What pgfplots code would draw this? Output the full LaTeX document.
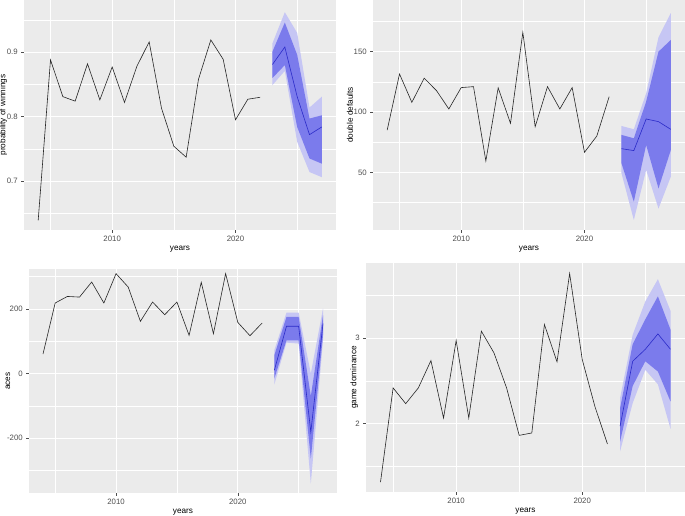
\documentclass[border=0pt]{standalone}
\usepackage{pgfplots}
\pgfplotsset{compat=1.18}
\usepackage{fontspec}
\setmainfont{Liberation Sans}
\definecolor{ggbg}{HTML}{EBEBEB}
\definecolor{ggtick}{HTML}{4D4D4D}
\definecolor{lo}{HTML}{C6C6F4}
\definecolor{hi}{HTML}{7B7BEC}
\definecolor{fc}{HTML}{2B2BC8}
\pgfplotsset{gg/.style={
  scale only axis, anchor=north west,
  axis background/.style={fill=ggbg},
  axis line style={draw=none},
  tick align=outside, tick pos=left,
  major tick length=2.75pt, minor tick length=0pt,
  tick style={ggtick, line width=0.5pt},
  grid=both,
  major grid style={white, line width=1pt},
  minor grid style={white, line width=0.5pt},
  xmin=2002.85, xmax=2028.15,
  xtick={2010,2020}, xticklabels={2010,2020},
  minor xtick={2005,2015,2025},
  ticklabel style={font=\fontsize{7.8}{9}\selectfont, text=ggtick},
  label style={font=\fontsize{8.2}{10}\selectfont},
  xlabel={years},
  /pgf/number format/assume math mode=true,
  xlabel style={yshift=3pt},
},
obs/.style={black!85, line width=0.6pt, no markers},
fcl/.style={fc, line width=0.6pt, no markers},
b95/.style={fill=lo, draw=none},
b80/.style={fill=hi, draw=none}}
\begin{document}
\begin{tikzpicture}
\path[use as bounding box] (0pt,0pt) rectangle (685pt,-516pt);
% Panel 1
\begin{axis}[gg, at={(24pt,0pt)}, width=312pt, height=230pt,
  ymin=0.624, ymax=0.981,
  ytick={0.7,0.8,0.9}, yticklabels={0.7,0.8,0.9},
  minor ytick={0.65,0.75,0.85,0.95},
  ylabel={probability of winnings}, ylabel style={yshift=-7pt}]
\addplot[b95] coordinates {(2023,0.914)(2024,0.962)(2025,0.930)(2026,0.814)(2027,0.831)(2027,0.706)(2026,0.714)(2025,0.761)(2024,0.871)(2023,0.849)} -- cycle;
\addplot[b80] coordinates {(2023,0.901)(2024,0.946)(2025,0.896)(2026,0.797)(2027,0.802)(2027,0.727)(2026,0.735)(2025,0.784)(2024,0.880)(2023,0.860)} -- cycle;
\addplot[fcl] coordinates {(2023,0.881)(2024,0.908)(2025,0.831)(2026,0.772)(2027,0.784)};
\addplot[obs] coordinates {(2004,0.639)(2005,0.888)(2006,0.831)(2007,0.824)(2008,0.882)(2009,0.826)(2010,0.877)(2011,0.822)(2012,0.878)(2013,0.916)(2014,0.813)(2015,0.754)(2016,0.737)(2017,0.858)(2018,0.919)(2019,0.889)(2020,0.795)(2021,0.827)(2022,0.830)};
\end{axis}
% Panel 2
\begin{axis}[gg, at={(373pt,0pt)}, width=312pt, height=230pt,
  ymin=2.2, ymax=192.8,
  ytick={50,100,150}, yticklabels={50,100,150},
  minor ytick={25,75,125,175},
  ylabel={double defaults}, ylabel style={yshift=-6pt}]
\addplot[b95] coordinates {(2023,88.4)(2024,85.7)(2025,115.5)(2026,161.9)(2027,182)(2027,46.4)(2026,20)(2025,52)(2024,10.5)(2023,49.2)} -- cycle;
\addplot[b80] coordinates {(2023,81)(2024,78.2)(2025,108.6)(2026,150)(2027,159.7)(2027,68.5)(2026,36.7)(2025,72.7)(2024,25.7)(2023,57.5)} -- cycle;
\addplot[fcl] coordinates {(2023,69.6)(2024,68)(2025,94.2)(2026,92)(2027,85.6)};
\addplot[obs] coordinates {(2004,85)(2005,131.5)(2006,108)(2007,128)(2008,117.7)(2009,102.5)(2010,120.2)(2011,121)(2012,59.4)(2013,120)(2014,90.6)(2015,166)(2016,87.8)(2017,121)(2018,102.5)(2019,120.2)(2020,66.6)(2021,80.1)(2022,112.7)};
\end{axis}
% Panel 3
\begin{axis}[gg, at={(29pt,-269pt)}, width=308pt, height=224pt,
  ymin=-370, ymax=324,
  ytick={-200,0,200}, yticklabels={-200,0,200},
  minor ytick={-300,-100,100,300},
  ylabel={aces}, ylabel style={yshift=-10pt}]
\addplot[b95] coordinates {(2023,72)(2024,189)(2025,189)(2026,0)(2027,201.5)(2027,103)(2026,-341)(2025,93)(2024,96)(2023,-34)} -- cycle;
\addplot[b80] coordinates {(2023,56.7)(2024,175.5)(2025,175.5)(2026,-70)(2027,180.7)(2027,118.7)(2026,-263.5)(2025,103)(2024,103)(2023,-15.6)} -- cycle;
\addplot[fcl] coordinates {(2023,10)(2024,146.6)(2025,146.6)(2026,-181)(2027,155)};
\addplot[obs] coordinates {(2004,60.5)(2005,218.6)(2006,239)(2007,237)(2008,283.7)(2009,218.6)(2010,309.6)(2011,268)(2012,161.8)(2013,221.7)(2014,182.4)(2015,221.7)(2016,118.3)(2017,282.7)(2018,123.5)(2019,309.6)(2020,158.7)(2021,117.3)(2022,156.6)};
\end{axis}
% Panel 4
\begin{axis}[gg, at={(366pt,-263pt)}, width=319pt, height=229pt,
  ymin=1.2, ymax=3.88,
  ytick={2,3}, yticklabels={2,3},
  minor ytick={1.5,2.5,3.5},
  ylabel={game dominance}, ylabel style={yshift=-9.5pt}]
\addplot[b95] coordinates {(2023,2.30)(2024,3.04)(2025,3.43)(2026,3.69)(2027,3.32)(2027,1.94)(2026,2.46)(2025,2.63)(2024,2.24)(2023,1.675)} -- cycle;
\addplot[b80] coordinates {(2023,2.18)(2024,2.93)(2025,3.22)(2026,3.49)(2027,3.10)(2027,2.26)(2026,2.61)(2025,2.73)(2024,2.44)(2023,1.79)} -- cycle;
\addplot[fcl] coordinates {(2023,1.97)(2024,2.73)(2025,2.87)(2026,3.05)(2027,2.87)};
\addplot[obs] coordinates {(2004,1.316)(2005,2.418)(2006,2.234)(2007,2.418)(2008,2.738)(2009,2.066)(2010,2.973)(2011,2.066)(2012,3.082)(2013,2.828)(2014,2.418)(2015,1.863)(2016,1.891)(2017,3.16)(2018,2.723)(2019,3.758)(2020,2.75)(2021,2.203)(2022,1.762)};
\end{axis}
\end{tikzpicture}
\end{document}
